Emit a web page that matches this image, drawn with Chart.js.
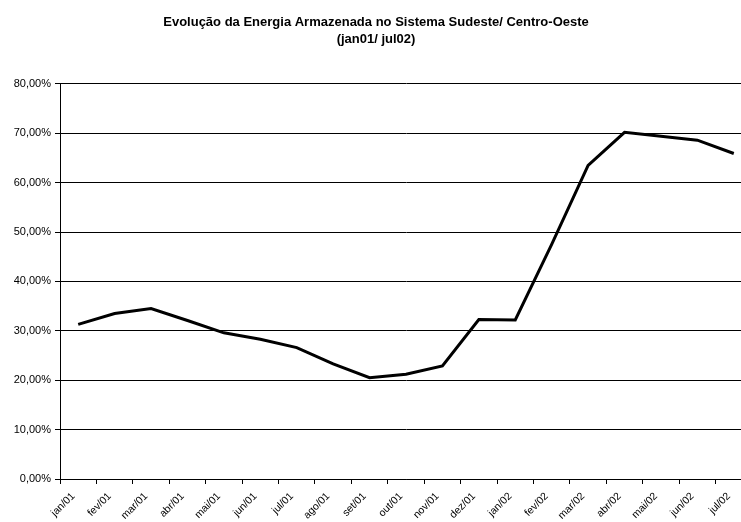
<!DOCTYPE html>
<html>
<head>
<meta charset="utf-8">
<script src="https://cdn.jsdelivr.net/npm/chart.js@4"></script>
<style>
  html, body { margin: 0; padding: 0; background: #fff; overflow: hidden; }
  #box { width: 760px; height: 522px; }
</style>
</head>
<body>
<div id="box"><canvas id="energyChart" width="760" height="522"></canvas></div>
<script>
var months = ["jan/01", "fev/01", "mar/01", "abr/01", "mai/01", "jun/01", "jul/01", "ago/01", "set/01", "out/01",
              "nov/01", "dez/01", "jan/02", "fev/02", "mar/02", "abr/02", "mai/02", "jun/02", "jul/02"];
var stored = [31.3, 33.5, 34.5, 32.1, 29.6, 28.3, 26.6, 23.3, 20.5, 21.2,
              22.9, 32.3, 32.2, 47.5, 63.5, 70.2, 69.4, 68.6, 65.9];
var titleLines = ["Evolução da Energia Armazenada no Sistema Sudeste/ Centro-Oeste", "(jan01/ jul02)"];

document.addEventListener("DOMContentLoaded", function() {
    var ctx = document.getElementById("energyChart").getContext("2d");
    new Chart(ctx, {
        type: "line",
        data: {
            labels: months,
            datasets: [{
                data: stored,
                borderColor: "#000",
                borderWidth: 3,
                pointRadius: 0,
                tension: 0,
                fill: false
            }]
        },
        options: {
            responsive: false,
            animation: false,
            layout: { padding: { top: 13, right: 8, bottom: 0, left: 0 } },
            plugins: {
                legend: { display: false },
                tooltip: { enabled: false },
                title: {
                    display: true,
                    text: titleLines,
                    color: "#000",
                    font: { family: "Liberation Sans", size: 13, weight: "bold", lineHeight: 1.38 },
                    padding: { top: 0, bottom: 35 }
                }
            },
            scales: {
                x: {
                    offset: true,
                    grid: { display: true, drawOnChartArea: false, offset: true, color: "#000", tickLength: 5 },
                    border: { color: "#000", width: 1 },
                    ticks: {
                        color: "#000",
                        font: { family: "Liberation Sans", size: 10.5 },
                        minRotation: 45,
                        maxRotation: 45,
                        autoSkip: false,
                        padding: 6,
                        labelOffset: -5
                    },
                    afterFit: function(scale) { scale.height = 43; }
                },
                y: {
                    min: 0,
                    max: 80,
                    grid: { color: "#000", lineWidth: 1, tickLength: 5 },
                    border: { color: "#000", width: 1 },
                    ticks: {
                        stepSize: 10,
                        color: "#000",
                        font: { family: "Liberation Sans", size: 11 },
                        padding: 4,
                        callback: function(v) { return v.toFixed(2).replace(".", ",") + "%"; }
                    },
                    afterFit: function(scale) { scale.width = 60; }
                }
            }
        }
    });
});
</script>
</body>
</html>
